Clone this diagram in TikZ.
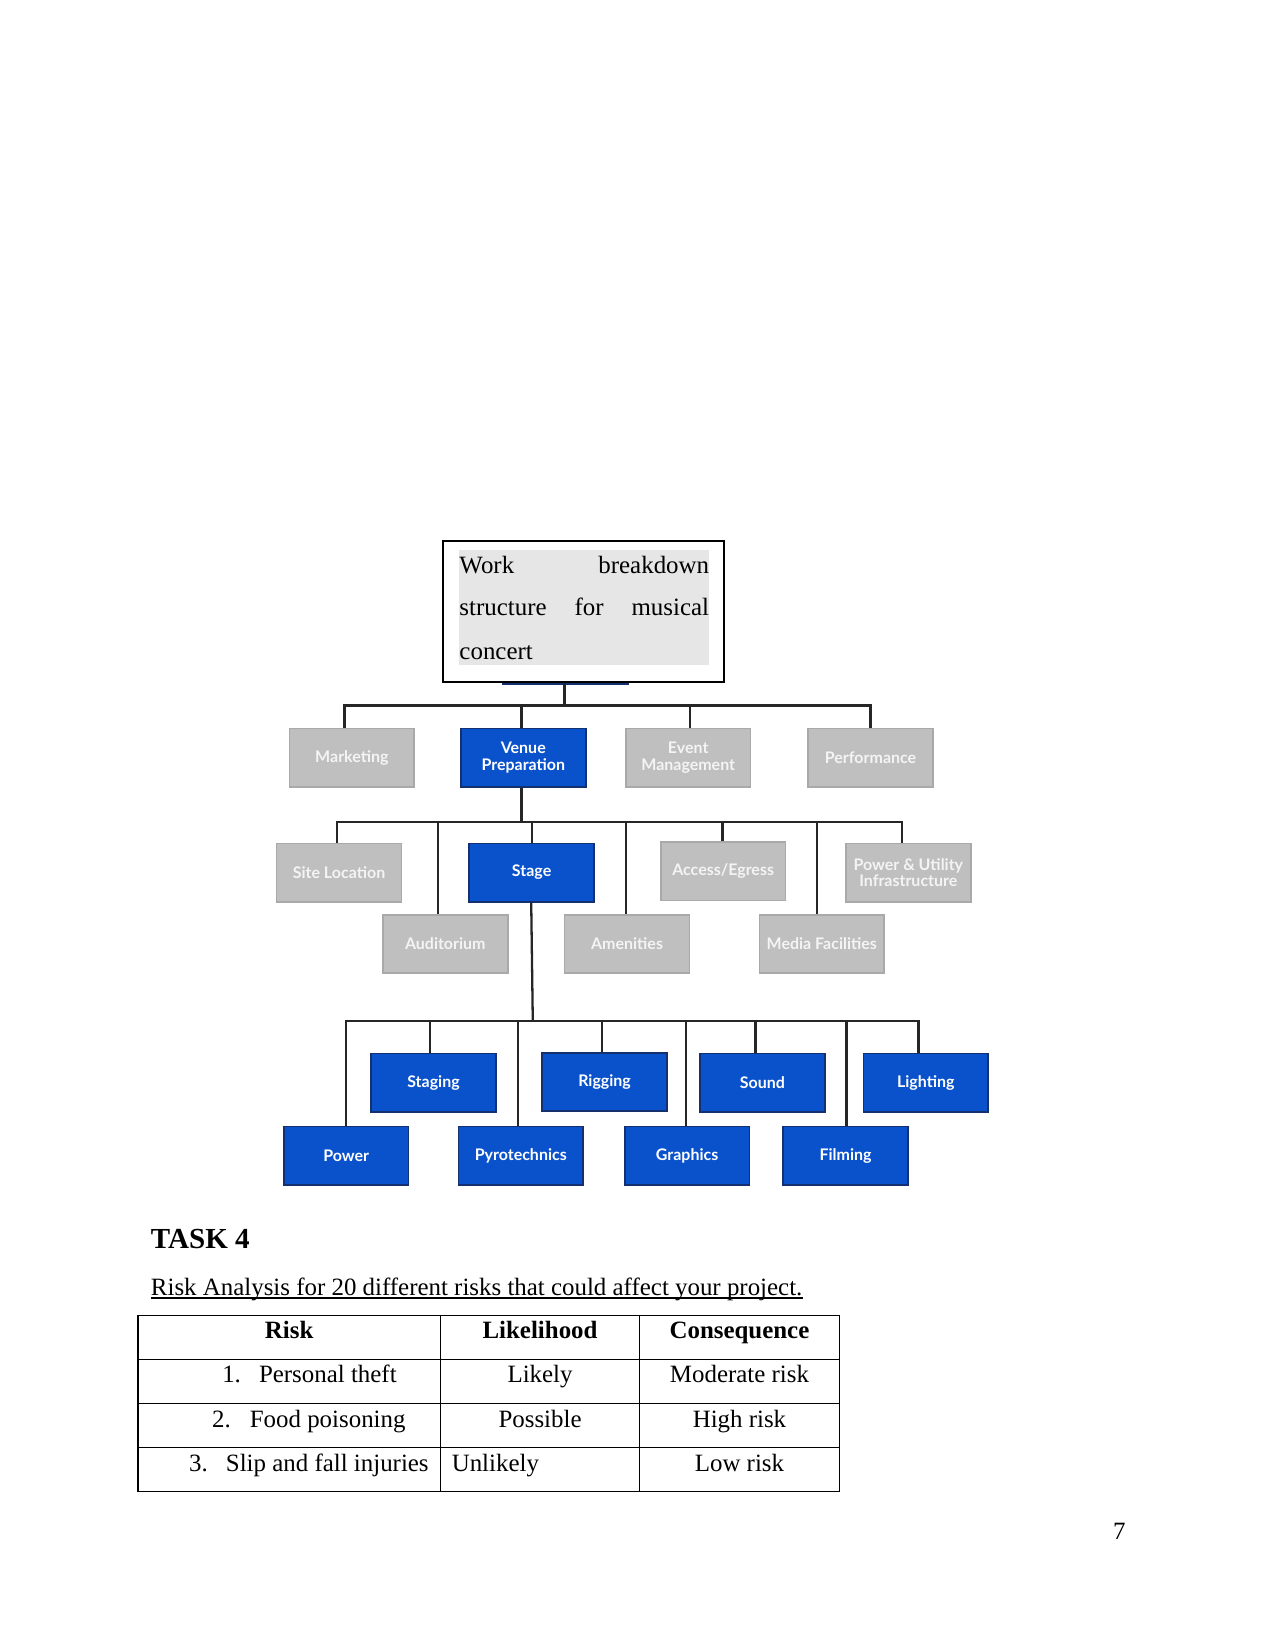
\documentclass[tikz,border=0pt]{standalone}
\usepackage{fontspec}
\setmainfont{Liberation Serif}
\newfontfamily\boxfont{Lato}
\definecolor{boxgray}{HTML}{BFBFBF}
\definecolor{boxgrayedge}{HTML}{A9A9A9}
\definecolor{boxgraytext}{HTML}{F4F4F4}
\definecolor{boxblue}{HTML}{0A52CC}
\definecolor{boxblueedge}{HTML}{14306E}
\definecolor{connc}{HTML}{262626}
\definecolor{titlegray}{HTML}{E6E6E6}
\begin{document}
\begin{tikzpicture}[x=0.50537bp,y=-0.50537bp,
  wbs/.style={draw, line width=0.8bp, minimum width=59.9bp, minimum height=28bp, inner sep=0pt, align=center, font=\boxfont\bfseries\fontsize{7.7}{8.1}\selectfont},
  gbox/.style={wbs, fill=boxgray, draw=boxgrayedge, text=boxgraytext},
  bbox/.style={wbs, fill=boxblue, draw=boxblueedge, text=white},
  conn/.style={draw=connc, line width=1.1bp},
  txt/.style={inner sep=0pt, anchor=base, font=\fontsize{12}{14}\selectfont},
  rule/.style={line width=0.55bp},
]
\useasboundingbox (0,0) rectangle (1211,1568);

% ---- title box ----
\fill[titlegray] (436,522) rectangle (673,632);
\node[draw, line width=0.9bp, minimum width=134.9bp, minimum height=67.7bp, inner sep=0pt] (title) at (554.5,581) {};
\node[txt, anchor=base west] (t1) at (436,544.5) {\makebox[119.8bp][l]{Work\hfill breakdown}};
\node[txt, anchor=base west] (t2) at (436,585) {\makebox[119.8bp][l]{structure\hfill for\hfill musical}};
\node[txt, anchor=base west] (t3) at (436,626) {concert};
\draw[boxblueedge, line width=0.8bp] (477,649.5) -- (597,649.5);

% ---- level 1 ----
\node[gbox] (mkt) at (334.2,719.5) {Marketing};
\node[bbox] (venue) at (497,719.5) {Venue\\Preparation};
\node[gbox] (event) at (653.6,719.5) {Event\\Management};
\node[gbox] (perf) at (826.8,719.5) {Performance};

\coordinate (j1) at (536,670);
\draw[conn] (title.south -| j1) -- (j1);
\draw[conn] ([xshift=-3.6bp]mkt.north) |- (j1) -| (perf.north);
\draw[conn] ([xshift=-0.9bp]venue.north) -- ([xshift=-0.9bp]venue.north |- j1);
\draw[conn] ([xshift=1bp]event.north) -- ([xshift=1bp]event.north |- j1);

% ---- level 2 ----
\node[gbox] (site) at (322,828.7) {Site Location};
\node[bbox] (stage) at (504.9,828.7) {Stage};
\node[gbox] (access) at (686.8,827.5) {Access/Egress};
\node[gbox] (power) at (862.7,828.7) {Power \& Utility\\Infrastructure};
\node[gbox] (aud) at (422.9,896.4) {Auditorium};
\node[gbox] (amen) at (595.5,896.4) {Amenities};
\node[gbox] (media) at (780.5,896.4) {Media Facilities};

\coordinate (j2) at (495,780.4);
\draw[conn] ([xshift=-0.9bp]venue.south) -- ([xshift=-0.9bp]venue.south |- j2);
\draw[conn] ([xshift=-1bp]site.north) |- (j2) -| ([xshift=-3.1bp]power.north);
\draw[conn] ([xshift=-3.5bp]aud.north) -- ([xshift=-3.5bp]aud.north |- j2);
\draw[conn] ([xshift=0.3bp]stage.north) -- ([xshift=0.3bp]stage.north |- j2);
\draw[conn] ([xshift=-0.6bp]amen.north) -- ([xshift=-0.6bp]amen.north |- j2);
\draw[conn] ([xshift=-0.3bp]access.north) -- ([xshift=-0.3bp]access.north |- j2);
\draw[conn] ([xshift=-2.4bp]media.north) -- ([xshift=-2.4bp]media.north |- j2);

% ---- level 3 ----
\node[bbox] (staging) at (411.7,1028.1) {Staging};
\node[bbox] (rigging) at (574.2,1027.5) {Rigging};
\node[bbox] (sound) at (724,1028.1) {Sound};
\node[bbox] (light) at (879.2,1028.1) {Lighting};
\node[bbox] (pwr) at (328.8,1097.7) {Power};
\node[bbox] (pyro) at (494.6,1097.7) {Pyrotechnics};
\node[bbox] (graph) at (652.6,1097.7) {Graphics};
\node[bbox] (film) at (803,1097.7) {Filming};

\coordinate (j3) at (506,969.4);
\draw[conn] ([xshift=-0.2bp]stage.south) -- (j3);
\draw[conn] (pwr.north) |- (j3) -| ([xshift=-3.5bp]light.north);
\draw[conn] ([xshift=-1.7bp]staging.north) -- ([xshift=-1.7bp]staging.north |- j3);
\draw[conn] ([xshift=-1.3bp]pyro.north) -- ([xshift=-1.3bp]pyro.north |- j3);
\draw[conn] ([xshift=-1.2bp]rigging.north) -- ([xshift=-1.2bp]rigging.north |- j3);
\draw[conn] ([xshift=-0.5bp]graph.north) -- ([xshift=-0.5bp]graph.north |- j3);
\draw[conn] ([xshift=-3.3bp]sound.north) -- ([xshift=-3.3bp]sound.north |- j3);
\draw[conn] ([xshift=0.5bp]film.north) -- ([xshift=0.5bp]film.north |- j3);

% ---- task 4 ----
\node[inner sep=0pt, anchor=base west, font=\fontsize{14}{16}\selectfont\bfseries] (task) at (143,1185.5) {TASK 4};
\node[txt, anchor=base west] (ra) at (143,1230) {Risk Analysis for 20 different risks that could affect your project.};
\draw[line width=0.55bp] ([yshift=-1.4bp]ra.base west) -- ([yshift=-1.4bp]ra.base east);

% ---- table ----
\draw[rule] (131,1249.6) rectangle (797.2,1416.1);
\draw[rule] (131,1291) -- (797.2,1291);
\draw[rule] (131,1332.8) -- (797.2,1332.8);
\draw[rule] (131,1374.6) -- (797.2,1374.6);
\draw[rule] (418.3,1249.6) -- (418.3,1416.1);
\draw[rule] (607.5,1249.6) -- (607.5,1416.1);

\node[txt, font=\fontsize{12}{14}\selectfont\bfseries] (h1) at (274.6,1271.5) {Risk};
\node[txt, font=\fontsize{12}{14}\selectfont\bfseries] (h2) at (512.9,1271.5) {Likelihood};
\node[txt, font=\fontsize{12}{14}\selectfont\bfseries] (h3) at (702.3,1271.5) {Consequence};

\node[txt, anchor=base west] (n1) at (210.7,1313.4) {1.};
\node[txt, anchor=base west] (r1) at (245.6,1313.4) {Personal theft};
\node[txt, anchor=base west] (n2) at (201,1355.5) {2.};
\node[txt, anchor=base west] (r2) at (236.9,1355.5) {Food poisoning};
\node[txt, anchor=base west] (n3) at (179.3,1397.2) {3.};
\node[txt, anchor=base west] (r3) at (214.2,1397.2) {Slip and fall injuries};

\node[txt] (l1) at (512.9,1313.4) {Likely};
\node[txt] (l2) at (512.9,1355.5) {Possible};
\node[txt, anchor=base west] (l3) at (428.7,1397.2) {Unlikely};

\node[txt] (c1) at (702.3,1313.4) {Moderate risk};
\node[txt] (c2) at (702.3,1355.5) {High risk};
\node[txt] (c3) at (702.3,1397.2) {Low risk};

\node[txt] (pg) at (1063,1461.7) {7};
\end{tikzpicture}
\end{document}
